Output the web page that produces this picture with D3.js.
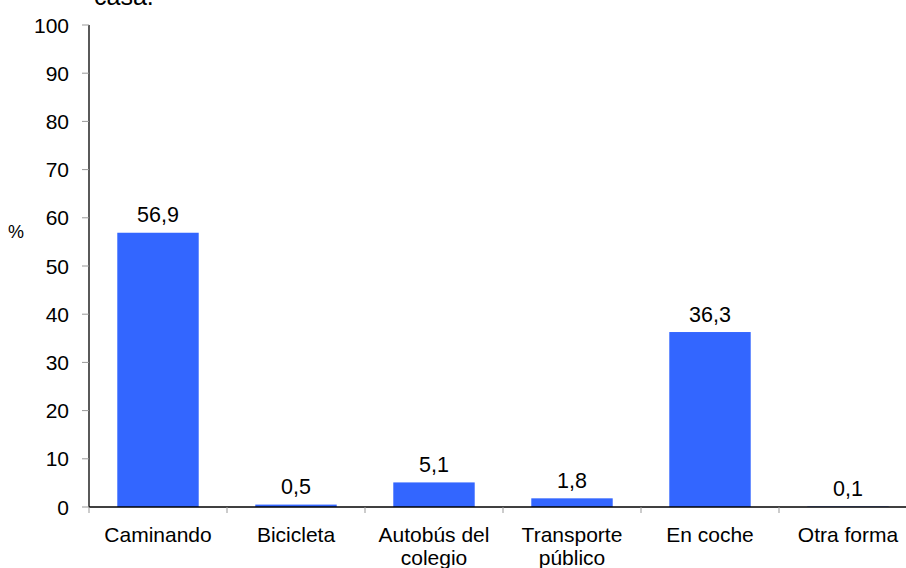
<!DOCTYPE html>
<html><head><meta charset="utf-8">
<script src="https://cdn.jsdelivr.net/npm/d3@7"></script>
<style>
body{margin:0;background:#fff;}
text{font-family:"Liberation Sans",Arial,sans-serif;fill:#000;}
</style></head>
<body><svg id="c" width="906" height="568"></svg>
<script>
const categories = [["Caminando"],["Bicicleta"],["Autobús del","colegio"],["Transporte","público"],["En coche"],["Otra forma"]];
const values = [56.9, 0.5, 5.1, 1.8, 36.3, 0.1];
const valueLabels = ["56,9","0,5","5,1","1,8","36,3","0,1"];
const yTicks = [0,10,20,30,40,50,60,70,80,90,100];
const titleText = "casa.";
const yLabel = "%";

const svg = d3.select("#c");
const x0 = 89, x1 = 917, yTop = 25, yBot = 507;
const x = d3.scaleBand().domain(d3.range(categories.length)).range([x0, x1]).paddingInner(0.41).paddingOuter(0.205);
const xb = d3.scaleLinear().domain([0, categories.length]).range([x0, x1]);
const y = d3.scaleLinear().domain([0,100]).range([yBot, yTop]);

// title (cut off at top, as in the reference)
svg.append("text").attr("x", 94).attr("y", 5).attr("font-size", 25).text(titleText);

// bars
svg.selectAll("rect.bar").data(values).enter().append("rect")
  .attr("x", (d,i)=>x(i)).attr("width", x.bandwidth())
  .attr("y", d=>y(d)).attr("height", d=>yBot - y(d))
  .attr("fill", "#3366ff");

// value labels
svg.selectAll("text.val").data(values).enter().append("text")
  .attr("x", (d,i)=>x(i)+x.bandwidth()/2).attr("y", d=>y(d)-10.5)
  .attr("text-anchor","middle").attr("font-size", 21.5).text((d,i)=>valueLabels[i]);

// y axis
const ya = svg.append("g");
ya.append("line").attr("x1", x0).attr("x2", x0).attr("y1", yTop).attr("y2", yBot).attr("stroke","#000").attr("stroke-width",1.3);
ya.selectAll("line.t").data(yTicks).enter().append("line")
  .attr("x1", x0-7).attr("x2", x0).attr("y1", d=>y(d)).attr("y2", d=>y(d)).attr("stroke","#999");
ya.selectAll("text.t").data(yTicks).enter().append("text")
  .attr("x", 69).attr("y", d=>y(d)).attr("dy","0.36em").attr("text-anchor","end").attr("font-size",21).text(d=>d);
svg.append("text").attr("x", 16).attr("y", 232).attr("dy","0.36em").attr("text-anchor","middle").attr("font-size",18).text(yLabel);

// x axis
svg.append("line").attr("x1", x0).attr("x2", 906).attr("y1", yBot).attr("y2", yBot).attr("stroke","#000").attr("stroke-width",1.3);
svg.selectAll("line.xt").data(d3.range(categories.length+1)).enter().append("line")
  .attr("x1", d=>xb(d)).attr("x2", d=>xb(d)).attr("y1", yBot).attr("y2", yBot+6).attr("stroke","#999");
const cl = svg.selectAll("text.cat").data(categories).enter().append("text")
  .attr("text-anchor","middle").attr("font-size",21);
cl.each(function(lines,i){
  const t = d3.select(this);
  lines.forEach((l,j)=>{
    t.append("tspan").attr("x", x(i)+x.bandwidth()/2).attr("y", 542 + j*23).text(l);
  });
});
</script></body></html>
